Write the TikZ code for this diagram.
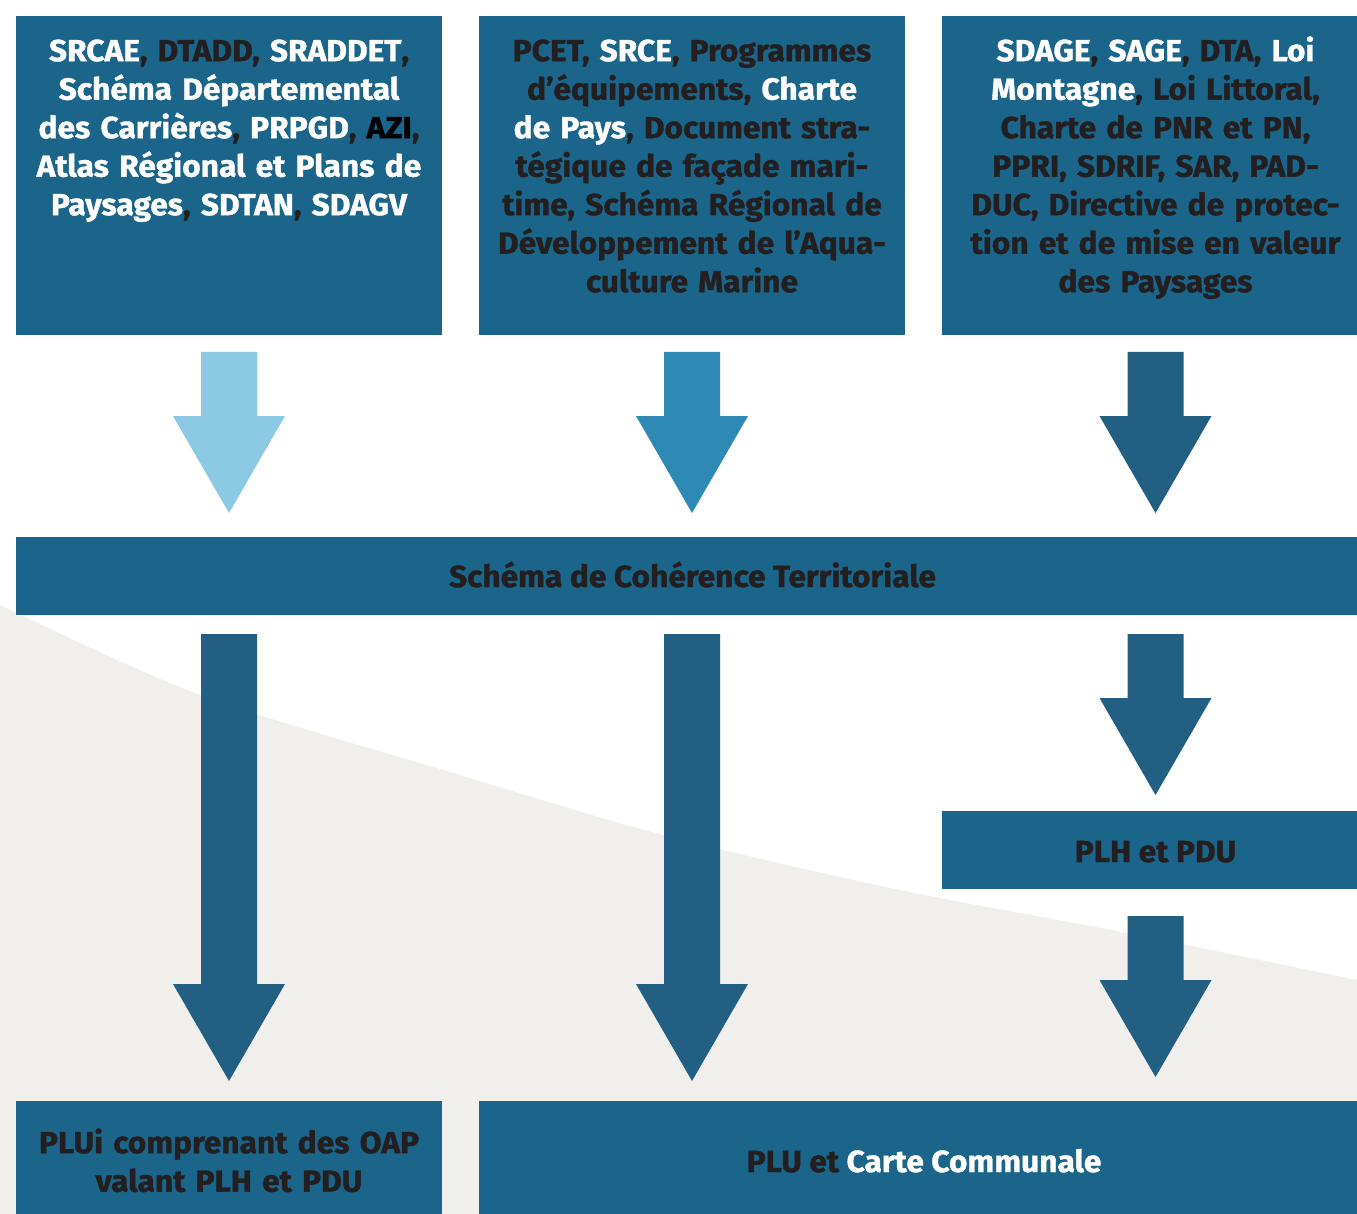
\documentclass[tikz,border=0pt]{standalone}
\usepackage{fontspec}
\setmainfont{Fira Sans}[BoldFeatures={FakeBold=1.2, FakeStretch=1.04}]
\usetikzlibrary{calc}

\definecolor{boxblue}{HTML}{1A6589}
\definecolor{inkdark}{HTML}{231F20}
\definecolor{arrlight}{HTML}{8BCAE2}
\definecolor{arrmid}{HTML}{2E8AB5}
\definecolor{arrdark}{HTML}{235F82}
\definecolor{paper}{HTML}{F0EFEB}

\newcommand{\wt}[1]{\textcolor{white}{#1}}
\newcommand{\bk}[1]{\textcolor{black}{#1}}

% block arrow: colour, start point of the shaft, tip
\newcommand{\blockarrow}[3]{%
  \fill[#1] ($(#2)+(-28,0)$) -- ($(#2)+(28,0)$) -- ($(#3)+(28,-97)$)
    -- ($(#3)+(56,-97)$) -- (#3) -- ($(#3)+(-56,-97)$)
    -- ($(#3)+(-28,-97)$) -- cycle;}

\tikzset{
  panel/.style={fill=boxblue, draw=none, inner sep=0pt, outer sep=0pt,
    anchor=north west},
  boxtext/.style={text=inkdark, inner sep=0pt, align=center,
    font=\bfseries\fontsize{30.5}{38.5}\selectfont},
}

\begin{document}
\begin{tikzpicture}[x=1pt, y=-1pt]
\useasboundingbox (0,0) rectangle (1357,1214);
\clip (0,0) rectangle (1357,1214);

% background
\fill[white] (0,0) rectangle (1357,1214);
\fill[paper] (0,1214) -- plot[smooth] coordinates
  {(0,605) (200,695) (450,772) (663,835) (900,890) (1127,933) (1357,980)}
  -- (1357,1214) -- cycle;

% panels
\node[panel, minimum width=426pt, minimum height=319pt] (b1) at (16,16) {};
\node[panel, minimum width=426pt, minimum height=319pt] (b2) at (479,16) {};
\node[panel, minimum width=427pt, minimum height=319pt] (b3) at (942,16) {};
\node[panel, minimum width=1353pt, minimum height=78pt] (scot) at (16,537) {};
\node[panel, minimum width=427pt, minimum height=78pt] (plh) at (942,811) {};
\node[panel, minimum width=426pt, minimum height=130pt] (plui) at (16,1101) {};
\node[panel, minimum width=890pt, minimum height=130pt] (plu) at (479,1101) {};

% panel texts
\node[boxtext, text width=424pt, anchor=north] (t1) at ($(b1.north)+(0,18)$)
  {\strut\wt{SRCAE}, DTADD, \wt{SRADDET},\\
   \wt{Schéma Départemental}\\
   \wt{des Carrières}, \wt{PRPGD}, \bk{AZI},\\
   \wt{Atlas Régional et Plans de}\\
   \wt{Paysages}, \wt{SDTAN}, \wt{SDAGV}};
\node[boxtext, text width=424pt, anchor=north] (t2) at ($(b2.north)+(0,18)$)
  {\strut PCET, \wt{SRCE}, Programmes\\
   d’équipements, \wt{Charte}\\
   \wt{de Pays}, Document stra-\\
   tégique de façade mari-\\
   time, Schéma Régional de\\
   Développement de l’Aqua-\\
   culture Marine};
\node[boxtext, text width=424pt, anchor=north] (t3) at ($(b3.north)+(0,18)$)
  {\strut\wt{SDAGE}, \wt{SAGE}, DTA, \wt{Loi}\\
   \wt{Montagne}, Loi Littoral,\\
   Charte de PNR et PN,\\
   PPRI, SDRIF, SAR, PAD-\\
   DUC, Directive de protec-\\
   tion et de mise en valeur\\
   des Paysages};
\node[boxtext, anchor=base] (tscot) at ($(scot.center)+(0,11)$)
  {Schéma de Cohérence Territoriale};
\node[boxtext, anchor=base] (tplh) at ($(plh.center)+(0,12)$)
  {PLH et PDU};
\node[boxtext, text width=424pt, anchor=north] (tplui) at ($(plui.north)+(0,25)$)
  {\strut PLUi comprenant des OAP\\ valant PLH et PDU};
\node[boxtext, anchor=base] (tplu) at ($(plu.north)+(0,71)$)
  {PLU et \wt{Carte Communale}};

% arrows from the top panels to the SCoT
\coordinate (s1) at ($(b1.south)+(0,17)$);
\coordinate (e1) at ($(b1.south |- scot.north)+(0,-24)$);
\coordinate (s2) at ($(b2.south)+(0,17)$);
\coordinate (e2) at ($(b2.south |- scot.north)+(0,-24)$);
\coordinate (s3) at ($(b3.south)+(0,17)$);
\coordinate (e3) at ($(b3.south |- scot.north)+(0,-24)$);
\blockarrow{arrlight}{s1}{e1}
\blockarrow{arrmid}{s2}{e2}
\blockarrow{arrdark}{s3}{e3}

% arrows from the SCoT down to the local plans
\coordinate (s4) at ($(b1.south |- scot.south)+(0,19)$);
\coordinate (e4) at ($(b1.south |- plui.north)+(0,-20)$);
\coordinate (s5) at ($(b2.south |- scot.south)+(0,19)$);
\coordinate (e5) at ($(b2.south |- plu.north)+(0,-20)$);
\coordinate (s6) at ($(b3.south |- scot.south)+(0,19)$);
\coordinate (e6) at ($(b3.south |- plh.north)+(0,-16)$);
\coordinate (s7) at ($(plh.south)+(0,27)$);
\coordinate (e7) at ($(plh.south |- plu.north)+(0,-24)$);
\blockarrow{arrdark}{s4}{e4}
\blockarrow{arrdark}{s5}{e5}
\blockarrow{arrdark}{s6}{e6}
\blockarrow{arrdark}{s7}{e7}
\end{tikzpicture}
\end{document}
